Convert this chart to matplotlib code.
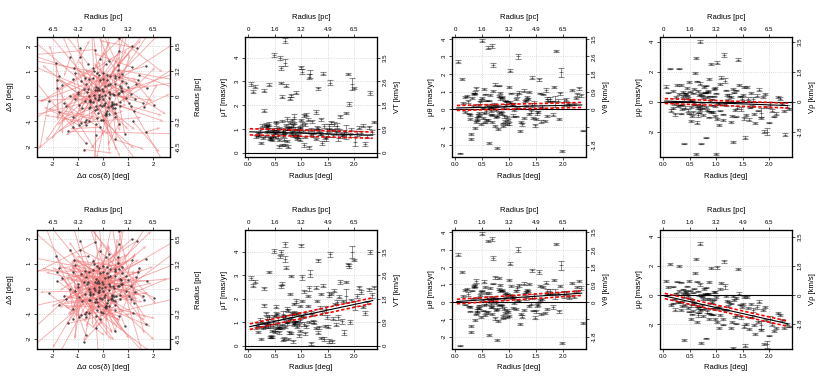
import numpy as np
import matplotlib.pyplot as plt

plt.rcParams['font.family'] = ['Liberation Sans', 'DejaVu Sans']
plt.rcParams['axes.unicode_minus'] = False

# --- star data (16 rows of 10 stars) ---
radius = np.array([
    0.12, 0.45, 0.83, 1.27, 0.66, 1.94, 0.38, 1.05, 0.71, 1.52,
    0.28, 0.95, 1.63, 0.57, 2.21, 0.89, 1.12, 0.49, 1.38, 0.74,
    0.05, 1.71, 0.62, 1.19, 0.33, 2.05, 0.92, 0.54, 1.46, 0.79,
    1.31, 0.21, 0.68, 1.85, 0.99, 0.41, 1.58, 0.86, 2.33, 0.60,
    0.47, 1.08, 0.73, 1.42, 0.18, 1.77, 0.97, 0.64, 1.23, 2.12,
    0.81, 0.36, 1.55, 0.58, 1.02, 1.91, 0.25, 1.34, 0.69, 0.88,
    1.16, 0.52, 2.27, 0.77, 0.31, 1.49, 0.94, 1.68, 0.43, 1.10,
    0.65, 1.99, 0.85, 0.39, 1.29, 0.56, 1.81, 0.72, 1.04, 0.15,
    1.44, 0.70, 0.48, 1.61, 0.91, 2.17, 0.35, 1.21, 0.63, 0.80,
    0.09, 1.36, 0.76, 1.88, 0.53, 1.14, 0.98, 0.29, 1.73, 0.67,
    2.02, 0.44, 1.25, 0.87, 0.59, 1.57, 0.23, 1.07, 0.82, 1.40,
    0.50, 1.96, 0.75, 1.18, 0.37, 0.93, 1.66, 0.61, 2.38, 0.84,
    1.32, 0.27, 1.01, 0.70, 1.50, 0.46, 1.84, 0.78, 0.55, 1.12,
    0.90, 1.60, 0.40, 2.09, 0.66, 1.27, 0.19, 0.96, 1.43, 0.58,
    0.73, 1.79, 1.06, 0.34, 2.25, 0.86, 0.51, 1.37, 0.64, 1.00,
    1.53, 0.42, 0.81, 1.93, 0.69, 1.15, 0.30, 1.70, 0.97, 2.30])

pos_angle = np.array([
    35, 210, 118, 300, 75, 160, 250, 20, 340, 195,
    95, 270, 45, 180, 320, 130, 5, 235, 65, 290,
    150, 225, 10, 110, 275, 350, 60, 195, 140, 30,
    240, 85, 315, 200, 170, 15, 260, 100, 55, 330,
    125, 345, 220, 80, 190, 285, 40, 155, 265, 115,
    305, 175, 25, 245, 135, 70, 215, 335, 90, 255,
    50, 310, 145, 280, 20, 230, 105, 165, 325, 185,
    10, 250, 70, 140, 355, 200, 120, 280, 30, 160,
    215, 45, 295, 350, 90, 185, 135, 60, 240, 330,
    270, 150, 15, 100, 325, 255, 175, 40, 300, 220,
    130, 5, 235, 80, 285, 190, 345, 110, 160, 20,
    65, 225, 195, 340, 120, 265, 30, 310, 75, 145,
    180, 290, 50, 255, 95, 320, 170, 15, 205, 240,
    355, 135, 265, 35, 165, 85, 220, 300, 115, 60,
    275, 10, 145, 190, 250, 55, 315, 230, 100, 200,
    320, 80, 25, 155, 280, 235, 125, 345, 210, 60])

mu_theta = np.array([
    1.70, -0.35, 0.62, -0.48, 0.15, 0.90, -0.72, 0.28, 1.05, -0.20,
    -0.55, 0.40, 0.85, -0.10, 0.30, -0.95, 0.60, 3.90, -0.25, 0.18,
    2.70, -0.40, 0.50, 0.95, 0.20, 0.55, -0.65, -0.20, 0.35, -1.10,
    0.20, 0.75, -0.30, 0.45, 1.25, -0.50, 0.10, 0.65, 0.80, 3.50,
    -0.85, 0.30, 1.40, 1.80, -0.15, 0.60, -0.45, 0.05, -0.70, 0.25,
    -0.20, 0.95, 1.70, -0.60, 0.40, 0.50, -0.25, 0.70, 3.60, -0.80,
    3.00, 0.10, 0.85, -0.40, 0.65, -0.90, 0.25, 1.10, -0.35, -0.05,
    0.80, -2.35, -0.15, 1.20, 0.45, -0.75, -0.30, 0.30, 0.90, 0.35,
    -0.50, 2.50, 0.55, 0.15, -0.40, 1.10, 0.85, -1.25, -1.90, 0.20,
    -2.50, 0.60, -0.05, 3.30, 1.15, 0.80, -0.60, -1.40, 0.50, -0.30,
    0.40, -0.20, -0.85, 0.70, 0.25, 0.90, 0.45, -0.35, 1.35, -0.10,
    0.65, 2.10, -0.45, 0.05, -1.05, 0.50, -0.65, -0.60, -1.20, 0.95,
    0.55, -0.30, 2.20, 0.10, -0.55, 0.40, 1.25, -2.20, 0.85, -0.40,
    0.15, -0.70, -0.60, 0.35, -0.10, 1.05, 0.70, -0.85, 0.25, 0.50,
    -0.95, 0.45, 0.30, 0.90, 0.65, -0.25, -0.50, 1.00, 0.15, -0.80,
    -0.15, 0.25, 0.75, -0.55, -0.70, 0.10, -1.70, 0.60, 0.45, 1.20])

# observed radial component (top row)
mu_rho_obs = np.array([
    2.20, 0.40, -0.55, 0.30, -0.90, -0.35, 0.65, -0.15, 0.50, -1.10,
    -0.30, 0.85, -0.40, -0.70, 0.20, 0.35, -1.25, 1.30, 0.75, -0.45,
    1.00, -0.85, 2.90, -0.20, 1.10, -0.60, 0.15, -0.95, -0.50, 0.60,
    -2.70, -0.15, 0.45, -0.75, 0.55, -0.40, 0.95, -1.05, -0.35, 1.90,
    0.25, -0.60, -0.20, 2.80, 0.70, 0.40, -0.30, 1.35, 0.10, -0.80,
    -2.40, -0.50, -2.40, 0.85, -1.15, -2.00, 0.30, 0.60, 1.20, 0.05,
    1.40, -1.30, -0.65, 0.95, -0.25, 0.20, -0.70, -0.30, 0.50, 1.60,
    -0.45, -1.40, 0.70, 0.15, -0.95, 0.55, 0.80, -2.80, -0.10, -0.60,
    0.35, 4.00, -0.80, -1.20, 2.50, 0.30, -0.20, 0.45, -1.40, 1.05,
    0.60, -0.55, 0.25, 0.30, -0.35, 3.10, 0.90, 2.20, -1.45, -0.75,
    -0.25, 0.90, 0.40, -0.65, -0.10, -0.90, -0.85, 1.15, 0.30, -0.40,
    0.10, -2.00, -0.90, 0.75, 0.35, -0.25, 0.55, -3.50, -0.50, 0.65,
    0.85, 1.10, 2.60, -0.30, 0.45, -0.60, -1.10, 0.60, 0.05, -0.85,
    -0.70, 0.20, -2.80, -1.00, 0.70, -1.35, -0.45, 0.35, 1.10, -0.20,
    0.40, -0.60, -1.55, -0.80, -0.15, 1.50, 0.65, -1.00, -0.30, -3.50,
    0.95, 0.55, -0.35, 0.50, -0.55, -0.20, 0.50, 0.15, -0.95, -2.20])

# radial component of the second version (bottom row)
mu_rho_mod = np.array([
    2.12, 0.08, -1.13, -0.59, -1.36, -1.71, 0.38, -0.89, 0.00, -2.16,
    -0.50, 0.18, -1.54, -1.10, -1.35, -0.27, -2.03, 0.96, -0.22, -0.97,
    0.96, -2.05, 2.47, -1.03, 0.87, -2.04, -0.49, -1.33, -1.52, 0.05,
    -3.62, -0.30, -0.03, -2.05, -0.14, -0.69, -0.16, -1.65, -1.98, 1.48,
    -0.08, -1.36, -0.71, 1.81, 0.57, -0.84, -0.98, 0.90, -0.76, -2.28,
    -2.97, -0.75, -3.49, 0.44, -1.86, -3.34, 0.12, -0.34, 0.72, -0.57,
    0.59, -1.66, -2.24, 0.41, -0.47, -0.84, -1.36, -1.48, 0.20, 0.83,
    -0.91, -2.79, 0.10, -0.12, -1.85, 0.16, -0.47, -3.30, -0.83, -0.71,
    -0.66, 3.51, -1.14, -2.33, 1.86, -1.22, -0.45, -0.40, -1.84, 0.49,
    0.54, -1.50, -0.28, -1.02, -0.72, 2.30, 0.21, 2.00, -2.66, -1.22,
    -1.66, 0.59, -0.48, -1.26, -0.51, -2.00, -1.01, 0.40, -0.27, -1.38,
    -0.25, -3.37, -1.43, -0.08, 0.09, -0.90, -0.61, -3.93, -2.17, 0.06,
    -0.07, 0.91, 1.89, -0.79, -0.60, -0.92, -2.39, 0.05, -0.34, -1.63,
    -1.33, -0.92, -3.08, -2.46, 0.24, -2.24, -0.58, -0.32, 0.10, -0.61,
    -0.11, -1.85, -2.29, -1.04, -1.73, 0.90, 0.29, -1.96, -0.75, -4.20,
    -0.12, 0.26, -0.92, -0.85, -1.03, -1.01, 0.29, -1.04, -1.63, -3.81])

mu_err = np.array([
    0.06, 0.04, 0.08, 0.05, 0.12, 0.07, 0.05, 0.09, 0.04, 0.10,
    0.05, 0.07, 0.04, 0.10, 0.08, 0.05, 0.06, 0.09, 0.05, 0.04,
    0.08, 0.06, 0.05, 0.07, 0.04, 0.09, 0.05, 0.06, 0.11, 0.05,
    0.07, 0.05, 0.06, 0.30, 0.05, 0.08, 0.06, 0.04, 0.09, 0.07,
    0.06, 0.05, 0.08, 0.07, 0.05, 0.12, 0.06, 0.04, 0.06, 0.08,
    0.05, 0.07, 0.10, 0.05, 0.06, 0.08, 0.04, 0.06, 0.13, 0.05,
    0.15, 0.05, 0.07, 0.06, 0.05, 0.08, 0.04, 0.09, 0.06, 0.07,
    0.06, 0.05, 0.05, 0.09, 0.06, 0.04, 0.10, 0.06, 0.05, 0.07,
    0.05, 0.12, 0.06, 0.07, 0.08, 0.05, 0.05, 0.06, 0.07, 0.04,
    0.05, 0.06, 0.05, 0.06, 0.08, 0.11, 0.05, 0.06, 0.07, 0.04,
    0.20, 0.05, 0.07, 0.05, 0.06, 0.05, 0.09, 0.06, 0.05, 0.08,
    0.05, 0.25, 0.06, 0.05, 0.07, 0.04, 0.06, 0.08, 0.05, 0.06,
    0.06, 0.05, 0.10, 0.05, 0.06, 0.07, 0.05, 0.06, 0.04, 0.05,
    0.05, 0.07, 0.06, 0.06, 0.05, 0.08, 0.06, 0.05, 0.09, 0.05,
    0.06, 0.05, 0.07, 0.05, 0.06, 0.09, 0.04, 0.06, 0.05, 0.07,
    0.08, 0.05, 0.05, 0.07, 0.06, 0.05, 0.06, 0.12, 0.05, 0.08])

# linear fits: (value at r=0.03, value at r=2.35, band half width)
fit_range = [0.03, 2.35]
fit_top = {'T': (0.88, 0.74, 0.13), 'theta': (0.08, 0.25, 0.14), 'rho': (0.03, -0.27, 0.16)}
fit_bot = {'T': (0.81, 1.92, 0.12), 'theta': (0.02, 0.50, 0.13), 'rho': (-0.07, -1.97, 0.18)}

# axis ticks and labels
sky_ticks = [-2, -1, 0, 1, 2]
sky_pc_labels = ['-6.5', '-3.2', '0', '3.2', '6.5']
rad_ticks = [0.0, 0.5, 1.0, 1.5, 2.0]
rad_pc_labels = ['0', '1.6', '3.2', '4.9', '6.5']
muT_ticks = [0, 1, 2, 3, 4]
muT_kms = ['0', '0.9', '1.8', '2.6', '3.5']
muth_ticks = [-2, -1, 0, 1, 2, 3, 4]
muth_kms = ['-1.8', '', '0', '0.9', '1.8', '2.6', '3.5']
murho_ticks = [-2, 0, 2, 4]
murho_kms = ['-1.8', '0', '1.8', '3.5']

vec_scale = 1.7  # deg of arrow per mas/yr

# ------------------------------------------------------------------
fig = plt.figure(figsize=(8.3, 3.88), dpi=100)
W, H = 830.0, 388.0
col_px = [(37, 133), (245, 132), (452, 134), (660, 132)]
row_px = [(37, 157), (230, 349)]

TICK_FS = 4.4
LAB_FS = 5.5


def make_axes(col, row):
    x0, w = col_px[col]
    top, bot = row_px[row]
    return fig.add_axes([x0 / W, 1 - bot / H, w / W, (bot - top) / H])


def style(ax):
    for s in ax.spines.values():
        s.set_linewidth(0.8)
        s.set_color('black')
    ax.tick_params(direction='out', length=2.3, width=0.5, labelsize=TICK_FS, pad=1.5)
    ax.tick_params(axis='y', labelrotation=90)
    for lbl in ax.get_yticklabels():
        lbl.set_va('center')


def add_twins(ax, xt, xl, yt, yl, xlab, ylab, ylab_x):
    top = ax.twiny()
    top.set_xlim(ax.get_xlim())
    top.set_xticks(xt, xl)
    right = ax.twinx()
    right.set_ylim(ax.get_ylim())
    right.set_yticks(yt, yl)
    for a in (top, right):
        style(a)
        a.grid(False)
    top.set_xlabel(xlab, fontsize=LAB_FS)
    top.xaxis.set_label_coords(0.5, 1.15)
    right.set_ylabel(ylab, fontsize=LAB_FS)
    right.yaxis.set_label_coords(ylab_x, 0.5)


def sky_panel(ax, mu_rho):
    phi = np.radians(pos_angle)
    x = radius * np.cos(phi)
    y = radius * np.sin(phi)
    u = mu_rho * np.cos(phi) - mu_theta * np.sin(phi)
    v = mu_rho * np.sin(phi) + mu_theta * np.cos(phi)
    ax.set_xlim(-2.62, 2.66)
    ax.set_ylim(-2.41, 2.35)
    ax.set_axisbelow(True)
    ax.grid(True, color='#CFCFCF', linestyle=':', linewidth=0.6)
    ax.quiver(x, y, u * vec_scale, v * vec_scale, angles='xy', scale_units='xy', scale=1,
              color='#F07A7A', alpha=0.6, width=0.007, headwidth=3, headlength=4,
              headaxislength=3.5, zorder=2)
    ax.scatter(x, y, s=3, color='#2E2E2E', alpha=0.85, linewidths=0, zorder=3)
    ax.set_xticks(sky_ticks)
    ax.set_yticks(sky_ticks)
    style(ax)
    ax.set_xlabel('Δα cos(δ) [deg]', fontsize=LAB_FS)
    ax.xaxis.set_label_coords(0.5, -0.13)
    ax.set_ylabel('Δδ [deg]', fontsize=LAB_FS)
    ax.yaxis.set_label_coords(-0.17, 0.5)
    add_twins(ax, sky_ticks, sky_pc_labels, sky_ticks, sky_pc_labels,
              'Radius [pc]', 'Radius [pc]', 1.19)


def pm_panel(ax, mu, fit, ylim, yt, ykms, ylab, vlab):
    ax.set_xlim(-0.06, 2.43)
    ax.set_ylim(*ylim)
    ax.set_axisbelow(True)
    ax.grid(True, color='#CFCFCF', linestyle=':', linewidth=0.6)
    ax.errorbar(radius, mu, yerr=mu_err, fmt='_', color=(0, 0, 0, 0.45), markersize=3,
                markeredgewidth=0.8, ecolor=(0, 0, 0, 0.45),
                elinewidth=0.7, capsize=2.0, capthick=0.7, zorder=2)
    ax.axhline(0, color='black', linewidth=0.8, zorder=3)
    y0, y1, band = fit
    ax.plot(fit_range, [y0, y1], color='black', linewidth=0.8, zorder=4)
    for sgn in (1, -1):
        ax.plot(fit_range, [y0 + sgn * band, y1 + sgn * band], color='red',
                linewidth=1.2, dashes=(2.0, 1.3), zorder=5)
    ax.set_xticks(rad_ticks, ['0.0', '0.5', '1.0', '1.5', '2.0'])
    ax.set_yticks(yt)
    style(ax)
    ax.set_xlabel('Radius [deg]', fontsize=LAB_FS)
    ax.xaxis.set_label_coords(0.5, -0.13)
    ax.set_ylabel(ylab, fontsize=LAB_FS)
    ax.yaxis.set_label_coords(-0.13, 0.5)
    add_twins(ax, rad_ticks, rad_pc_labels, yt, ykms, 'Radius [pc]', vlab, 1.13)


for row, (mu_rho, fits, lims) in enumerate([
        (mu_rho_obs, fit_top, [(-0.18, 4.87), (-2.7, 4.1), (-3.7, 4.3)]),
        (mu_rho_mod, fit_bot, [(-0.14, 4.92), (-2.7, 4.12), (-3.7, 4.45)])]):
    mu_T = np.hypot(mu_rho, mu_theta)
    sky_panel(make_axes(0, row), mu_rho)
    pm_panel(make_axes(1, row), mu_T, fits['T'], lims[0], muT_ticks, muT_kms,
             'μT [mas/yr]', 'VT [km/s]')
    pm_panel(make_axes(2, row), mu_theta, fits['theta'], lims[1], muth_ticks, muth_kms,
             'μθ [mas/yr]', 'Vθ [km/s]')
    pm_panel(make_axes(3, row), mu_rho, fits['rho'], lims[2], murho_ticks, murho_kms,
             'μρ [mas/yr]', 'Vρ [km/s]')

fig.savefig('out.png', dpi=100)
